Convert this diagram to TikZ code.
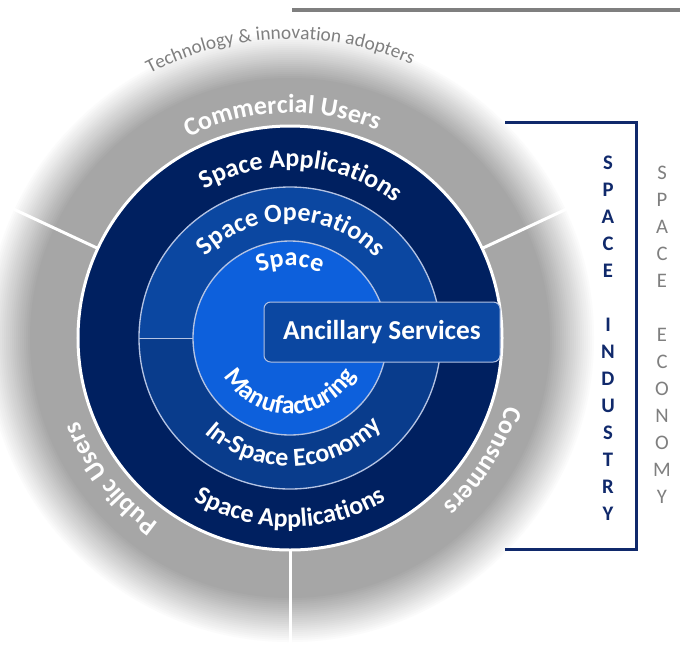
\documentclass[tikz,border=0pt]{standalone}
\usepackage{fontspec}
\setmainfont{Carlito}
\usetikzlibrary{decorations.text}

\definecolor{ringgray}{HTML}{A6A6A6}
\definecolor{appnavy}{HTML}{002060}
\definecolor{opsblue}{HTML}{0B47A1}
\definecolor{ecoblue}{HTML}{093C8C}
\definecolor{mfgblue}{HTML}{0D60DC}
\definecolor{edgeblue}{HTML}{B4C3E3}
\definecolor{bracketnavy}{HTML}{10296B}
\definecolor{labelgray}{HTML}{7F7F7F}

\newcommand{\ringbold}{\color{white}\bfseries\fontsize{19.5}{22}\selectfont}

\tikzset{every picture/.style={line width=0.75pt}}
\tikzset{
  ringlabel/.style={decorate, decoration={text along path, text align=center, text={#1}}},
  sepline/.style={white, line width=2.25pt},
  ancbox/.style={draw=edgeblue, fill=opsblue, rounded corners=5pt, minimum width=177pt, minimum height=45pt, text=white, font=\bfseries\fontsize{20.5}{22}\selectfont},
  lettercol/.style={align=center, font=\fontsize{15.5}{20.25}\selectfont},
  boldcol/.style={align=center, font=\bfseries\fontsize{15.5}{20.25}\selectfont},
}

\begin{document}
\begin{tikzpicture}[x=0.75pt,y=0.75pt]
	\useasboundingbox (-290,-316) rectangle (390,338);
	
	%Shape: Circle (outer ring, soft edge fading to white)
	\foreach \k in {0,...,23} {
		\pgfmathsetmacro{\rr}{306-2*\k}
		\pgfmathsetmacro{\pp}{100*\k/23}
		\fill [ringgray!\pp!white] (0,0) circle (\rr);
	}
	%Straight Lines
	\draw [sepline] (25:212) -- (25:318);
	%Straight Lines
	\draw [sepline] (155:212) -- (155:322);
	%Straight Lines
	\draw [sepline] (270:212) -- (270:320);
	%Shape: Circle
	\draw [white, line width=2.25pt, fill=appnavy] (0,0) circle (212);
	%Shape: Half Circle
	\fill [opsblue] (151,0) arc [start angle=0, end angle=180, radius=151] -- cycle;
	%Shape: Half Circle
	\fill [ecoblue] (-151,0) arc [start angle=180, end angle=360, radius=151] -- cycle;
	\draw [edgeblue, line width=1pt] (0,0) circle (151);
	%Straight Lines
	\draw [edgeblue] (-151,0) -- (151,0);
	%Shape: Circle
	\draw [edgeblue, line width=1pt, fill=mfgblue] (0,0) circle (97);
	
	% Text Node
	\node [ancbox] (ancillary) at (92,6) {Ancillary Services};
	
	%Curved Text
	\path [ringlabel={|\color{labelgray}\fontsize{14.5}{16}\selectfont|Technology {\&} innovation adopters}] (150:299) arc [start angle=150, end angle=34, radius=299];
	%Curved Text
	\path [ringlabel={|\ringbold|Commercial Users}] (152:225) arc [start angle=152, end angle=32, radius=225];
	%Curved Text
	\path [ringlabel={|\ringbold|Public Users}] (268:227) arc [start angle=268, end angle=168, radius=227];
	%Curved Text
	\path [ringlabel={|\ringbold|Consumers}] (17.5:227) arc [start angle=17.5, end angle=-82.5, radius=227];
	%Curved Text
	\path [ringlabel={|\ringbold|Space Applications}] (149:171) arc [start angle=149, end angle=23, radius=171];
	%Curved Text
	\path [ringlabel={|\ringbold|Space Applications}] (210:189) arc [start angle=210, end angle=330, radius=189];
	%Curved Text
	\path [ringlabel={|\ringbold|Space Operations}] (160:117) arc [start angle=160, end angle=19, radius=117];
	%Curved Text
	\path [ringlabel={|\ringbold|In-Space Economy}] (200:128) arc [start angle=200, end angle=344, radius=128];
	%Curved Text
	\path [ringlabel={|\ringbold|Space}] (130:72) arc [start angle=130, end angle=50, radius=72];
	%Curved Text
	\path [ringlabel={|\ringbold|Manufacturing}] (185:76) arc [start angle=185, end angle=355, radius=76];
	
	%Straight Lines
	\draw [labelgray, line width=2.25pt] (2,328) -- (390,328);
	%Straight Lines
	\draw [bracketnavy, line width=2.25pt] (215,216) -- (346,216) -- (346,-211) -- (215,-211);
	
	% Text Node
	\node [boldcol, text=bracketnavy] (industry) at (318,0) {S\\P\\A\\C\\E\\[20.25pt]I\\N\\D\\U\\S\\T\\R\\Y};
	% Text Node
	\node [lettercol, text=labelgray] (economy) at (372,3) {S\\P\\A\\C\\E\\[20.25pt]E\\C\\O\\N\\O\\M\\Y};
	
\end{tikzpicture}
\end{document}
